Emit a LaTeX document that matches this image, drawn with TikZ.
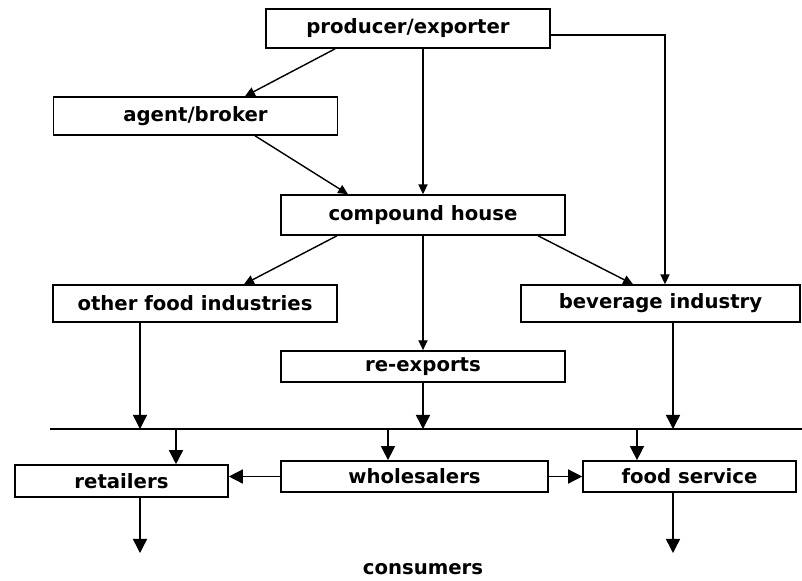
\documentclass[tikz,border=0pt]{standalone}
\usepackage{fontspec}
\setmainfont{DejaVu Sans}
\usetikzlibrary{arrows.meta}

\begin{document}
\begin{tikzpicture}[x=0.025cm,y=-0.025cm,line width=1pt,>={Triangle[length=7pt,width=6.5pt]}]
	\tikzset{
		box/.style={draw,line width=1.1pt,inner sep=0pt,minimum width=7.1cm,minimum height=0.98cm,font=\bfseries\fontsize{14}{16}\selectfont},
		lowbox/.style={box,minimum height=0.78cm},
		big/.style={-{Triangle[length=10pt,width=10pt]}}
	}
	\useasboundingbox (0,0) rectangle (802,580);
	
%	upper part
	\node[box] (prod) at (408,28.5) {producer/exporter};
	\node[box,minimum height=0.95cm] (agent) at (195.5,116) {agent/broker};
	\node[box,minimum height=1cm] (comp) at (423,215) {compound house};
	\node[box,minimum height=0.925cm] (other) at (195,303.5) {other food industries};
	\node[box,minimum height=0.925cm,minimum width=6.975cm] (bev) at (660.5,303.5) {beverage industry};
	\node[lowbox] (reexp) at (423,366.5) {re-exports};
	
%	lower part
	\node[lowbox,minimum height=0.8cm,minimum width=5.325cm] (retail) at (121.5,481) {retailers};
	\node[lowbox,minimum width=6.675cm] (whole) at (414.5,476.5) {wholesalers};
	\node[lowbox,minimum width=5.325cm] (food) at (689.5,476.5) {food service};
	\node[font=\bfseries\fontsize{14}{16}\selectfont] (cons) at (423,569) {consumers};
	
%	distribution line
	\coordinate (busL) at (50,429);
	\coordinate (busR) at (802,429);
	\coordinate (tOther) at (140,429);
	\coordinate (tRe) at (423,429);
	\coordinate (tBev) at (673,429);
	\coordinate (tRet) at (176,429);
	\coordinate (tWho) at (388,429);
	\coordinate (tFood) at (637,429);
	\coordinate (cRet) at (140,553);
	\coordinate (cFood) at (673,553);
	\draw (busL) -- (busR);
	
	\draw[->] ([shift={(-73,0)}]prod.south) -- ([shift={(49.5,0)}]agent.north);
	\draw[->] (prod.south -| comp.north) -- (comp.north);
	\draw[->] ([shift={(0,6.5)}]prod.east) -| ([shift={(4.5,0)}]bev.north);
	\draw[->] ([shift={(59.5,0)}]agent.south) -- ([shift={(-75,0)}]comp.north);
	\draw[->] ([shift={(-86,0)}]comp.south) -- ([shift={(49,0)}]other.north);
	\draw[->] (comp.south) -- (reexp.north);
	\draw[->] ([shift={(115,0)}]comp.south) -- ([shift={(-27.5,0)}]bev.north);
	
	\draw[big] (other.south -| tOther) -- (tOther);
	\draw[big] (reexp.south) -- (tRe);
	\draw[big] (bev.south -| tBev) -- (tBev);
	
	\draw[big] (tRet) -- (tRet |- retail.north);
	\draw[big] (tWho) -- (tWho |- whole.north);
	\draw[big] (tFood) -- (tFood |- food.north);
	
	\draw[big] (whole.west) -- (whole.west -| retail.east);
	\draw[big] (whole.east) -- (whole.east -| food.west);
	\draw[big] (retail.south -| cRet) -- (cRet);
	\draw[big] (food.south -| cFood) -- (cFood);
\end{tikzpicture}
\end{document}
